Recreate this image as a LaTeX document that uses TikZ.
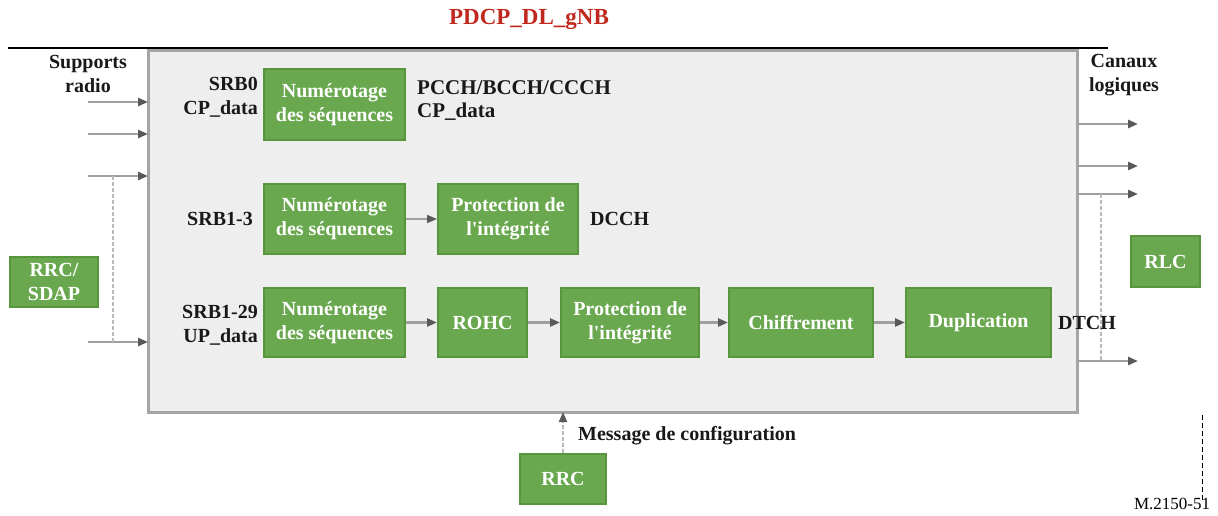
\documentclass[tikz,border=0pt]{standalone}
\usepackage{fontspec}
\setmainfont{Liberation Serif}[Ligatures=TeXOff]
\usetikzlibrary{arrows.meta}
\definecolor{boxgreen}{RGB}{106,168,79}
\definecolor{boxedge}{RGB}{88,150,62}
\definecolor{panel}{RGB}{238,238,238}
\definecolor{paneledge}{RGB}{165,165,165}
\definecolor{titlered}{RGB}{192,40,30}
\tikzset{
  gbox/.style={draw=boxedge, line width=2pt, fill=boxgreen, text=white, font=\bfseries\fontsize{20}{24}\selectfont, align=center, inner sep=0pt},
  lbl/.style={font=\bfseries\fontsize{20}{24}\selectfont, text=black!90, inner sep=0pt},
  flow/.style={draw=gray!75, line width=2.5pt, -{Triangle[length=10pt,width=8pt,color=black!65,fill=black!65]}},
  link/.style={draw=gray!55, line width=2.5pt, dash pattern=on 4pt off 2pt},
}
\begin{document}
\begin{tikzpicture}[x=1pt,y=-1pt]
\useasboundingbox (0,0) rectangle (1218,515);
% title and top rule
\node[lbl, text=titlered, font=\bfseries\fontsize{23}{26}\selectfont] (title) at (529,19) {PDCP\_DL\_gNB};
\coordinate (rl) at (8,48);
\coordinate (rr) at (1108,48);
\draw[black, line width=1.2pt] (rl) -- (rr);
% main panel
\node[draw=paneledge, line width=3pt, fill=panel, minimum width=929pt, minimum height=362pt, inner sep=0pt] (panel) at (612.5,231) {};
% side labels
\node[lbl, align=center] (supp) at (88,74) {Supports\\radio};
\node[lbl, align=center] (can) at (1124,75) {Canaux\\logiques};
% left arrows
\foreach \n/\y in {a/102,b/134,c/176,d/342}{
  \coordinate (in\n) at (88,\y);
  \coordinate (pin\n) at (148,\y);
}
\draw[flow] (ina) -- (pina);
\draw[flow] (inb) -- (pinb);
\draw[flow] (inc) -- (pinc);
\draw[flow] (ind) -- (pind);
\coordinate (lv1) at (113,176);
\coordinate (lv2) at (113,342);
\draw[link] (lv1) -- (lv2);
\node[gbox, minimum width=88pt, minimum height=50pt] (rrcsdap) at (54,282) {RRC/\\SDAP};
% right arrows
\foreach \n/\y in {a/124,b/166,c/194,d/361}{
  \coordinate (pout\n) at (1077,\y);
  \coordinate (out\n) at (1138,\y);
}
\draw[flow] (pouta) -- (outa);
\draw[flow] (poutb) -- (outb);
\draw[flow] (poutc) -- (outc);
\draw[flow] (poutd) -- (outd);
\coordinate (rv1) at (1101,194);
\coordinate (rv2) at (1101,361);
\draw[link] (rv1) -- (rv2);
\node[gbox, minimum width=69pt, minimum height=51pt] (rlc) at (1165.5,261.5) {RLC};
% row labels
\node[lbl, align=right, anchor=east] (srb0) at (258,97) {SRB0\\CP\_data};
\node[lbl, anchor=east] (srb13) at (253,219) {SRB1-3};
\node[lbl, align=right, anchor=east] (srb129) at (258,325) {SRB1-29\\UP\_data};
% row 1
\node[gbox, minimum width=141pt, minimum height=71pt] (n1) at (334.5,104.5) {Numérotage\\des séquences};
\node[lbl, align=left, anchor=west, font=\bfseries\fontsize{21}{23}\selectfont] (pcch) at (417,101) {PCCH/BCCH/CCCH\\CP\_data};
% row 2
\node[gbox, minimum width=141pt, minimum height=70pt] (n2) at (334.5,219) {Numérotage\\des séquences};
\node[gbox, minimum width=140pt, minimum height=70pt] (p2) at (508,219) {Protection de\\l'intégrité};
\node[lbl, anchor=west] (dcch) at (590,219) {DCCH};
\draw[flow, line width=1.5pt] (n2) -- (p2);
% row 3
\node[gbox, minimum width=141pt, minimum height=69pt] (n3) at (334.5,322.5) {Numérotage\\des séquences};
\node[gbox, minimum width=89pt, minimum height=69pt] (rohc) at (482.5,322.5) {ROHC};
\node[gbox, minimum width=138pt, minimum height=69pt] (p3) at (630,322.5) {Protection de\\l'intégrité};
\node[gbox, minimum width=144pt, minimum height=69pt] (chif) at (801,322.5) {Chiffrement};
\node[gbox, minimum width=145pt, minimum height=69pt] (dup) at (978.5,322.5) {Duplication};
\node[lbl, anchor=west] (dtch) at (1058,323) {DTCH};
\draw[flow] (n3) -- (rohc);
\draw[flow] (rohc) -- (p3);
\draw[flow] (p3) -- (chif);
\draw[flow] (chif) -- (dup);
% bottom RRC
\node[gbox, minimum width=86pt, minimum height=50pt] (rrc) at (563,479) {RRC};
\coordinate (pbot) at (563,412);
\draw[link, line width=2pt, -{Triangle[length=10pt,width=8pt,color=black!65,fill=black!65]}] (rrc.north) -- (pbot);
\node[lbl, anchor=west] (msg) at (578,436) {Message de configuration};
% right-hand frame mark and figure number
\coordinate (fr1) at (1202,415);
\coordinate (fr2) at (1202,500);
\draw[black, line width=1pt, dash pattern=on 5pt off 3pt] (fr1) -- (fr2);
\node[font=\fontsize{17}{20}\selectfont, inner sep=0pt] (fig) at (1172,504) {M.2150-51};
\end{tikzpicture}
\end{document}
